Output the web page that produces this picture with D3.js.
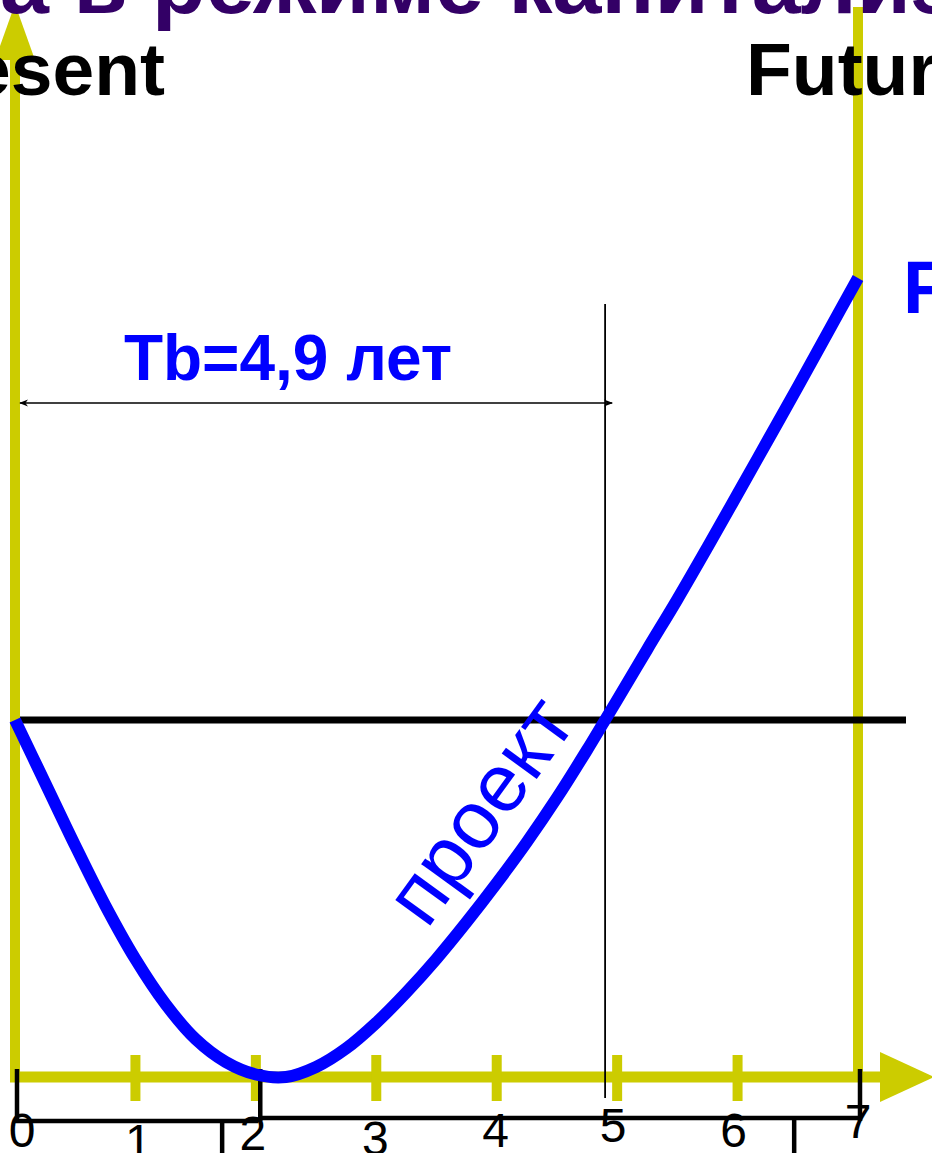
<!DOCTYPE html>
<html>
<head>
<meta charset="utf-8">
<script src="https://cdn.jsdelivr.net/npm/d3@7"></script>
<style>
  html, body { margin: 0; padding: 0; background: #fff; }
  svg { display: block; font-family: "Liberation Sans", Arial, sans-serif; }
</style>
</head>
<body>
<div id="chart"></div>
<script>
// data: cumulative project value by year (0 = break-even line)
const years   = [0, 0.25, 0.5, 0.75, 1, 1.25, 1.5, 1.75, 2, 2.25, 2.5, 2.75, 3, 3.25, 3.5,
                 3.75, 4, 4.25, 4.5, 4.75, 4.9, 5, 5.25, 5.5, 5.75, 6, 6.25, 6.5, 6.75, 7];
const project = [0, -17.6, -35.2, -52, -67, -79.6, -89.4, -95.8, -99.3, -100, -97.2, -92, -84.8, -76.3, -66.9,
                 -56.6, -45.7, -34.2, -21.8, -8.4, 0, 5.6, 19.8, 33.8, 48.4, 63.3, 78.3, 93.3, 108.6, 123.8];

const tickYears  = [0, 1, 2, 3, 4, 5, 6, 7];
const tickLabels = ["0", "1", "2", "3", "4", "5", "6", "7"];
const upMarks    = [0, 2.02, 7];     // black marks above the lower scale
const downMarks  = [1.72, 6.47];     // black marks below the lower scale
const paybackYear = 4.9;
const horizonYear = 7;

const titleText   = "а в режиме капитализации";
const presentText = "Present";
const futureText  = "Future";
const paybackText = "Tb=4,9 лет";
const curveText   = "проект";
const fvText      = "FV";

const W = 932, H = 1153;
const YELLOW = "#cccc00", BLUE = "#0000ff", PURPLE = "#330066";

// layout nudges for hand placed tick labels
const labelDx = [7, 3, -3, -1, -1, -4, -4, 0];
const labelBase = [1147, 1158, 1150, 1155, 1147, 1142, 1147, 1138];

const x = d3.scaleLinear().domain([0, 7]).range([15, 858]);
const y = d3.scaleLinear().domain([-100, 0]).range([1077, 720]);

const svg = d3.select("#chart").append("svg")
  .attr("width", W).attr("height", H);

svg.append("rect").attr("width", W).attr("height", H).attr("fill", "#fff");

// yellow frame: time axis, "present" and "future" verticals
const axisY = y(-100);
svg.append("line")
  .attr("x1", x(0) - 5).attr("x2", 882)
  .attr("y1", axisY).attr("y2", axisY)
  .attr("stroke", YELLOW).attr("stroke-width", 11);
svg.append("path")
  .attr("d", `M880,${axisY - 25} L934,${axisY} L880,${axisY + 25} Z`)
  .attr("fill", YELLOW);

svg.append("line")
  .attr("x1", x(0)).attr("x2", x(0))
  .attr("y1", axisY + 5).attr("y2", 50)
  .attr("stroke", YELLOW).attr("stroke-width", 10);
svg.append("path")
  .attr("d", `M${x(0)},4 L${x(0) + 20},60 L${x(0) - 20},60 Z`)
  .attr("fill", YELLOW);

svg.append("line")
  .attr("x1", x(horizonYear)).attr("x2", x(horizonYear))
  .attr("y1", 7).attr("y2", axisY)
  .attr("stroke", YELLOW).attr("stroke-width", 10);

svg.selectAll("line.ytick")
  .data(tickYears.filter(d => d > 0 && d < horizonYear))
  .enter().append("line")
  .attr("class", "ytick")
  .attr("x1", d => x(d)).attr("x2", d => x(d))
  .attr("y1", axisY - 22).attr("y2", axisY + 24)
  .attr("stroke", YELLOW).attr("stroke-width", 10);

// break-even line
svg.append("line")
  .attr("x1", x(0) + 5).attr("x2", 906)
  .attr("y1", y(0)).attr("y2", y(0))
  .attr("stroke", "#000").attr("stroke-width", 7);

// payback vertical + dimension arrow
svg.append("line")
  .attr("x1", x(paybackYear)).attr("x2", x(paybackYear))
  .attr("y1", 304).attr("y2", 1098)
  .attr("stroke", "#000").attr("stroke-width", 1.8);

const defs = svg.append("defs");
defs.append("marker")
  .attr("id", "arr").attr("viewBox", "0 0 10 10")
  .attr("refX", 9).attr("refY", 5)
  .attr("markerWidth", 9).attr("markerHeight", 9)
  .attr("markerUnits", "userSpaceOnUse")
  .attr("orient", "auto-start-reverse")
  .append("path").attr("d", "M0,1 L10,5 L0,9 L3,5 Z").attr("fill", "#000");

svg.append("line")
  .attr("x1", x(0) + 5).attr("x2", x(paybackYear) + 7)
  .attr("y1", 403).attr("y2", 403)
  .attr("stroke", "#000").attr("stroke-width", 1.6)
  .attr("marker-start", "url(#arr)").attr("marker-end", "url(#arr)");

// lower black scale
const scaleY = 1119;
svg.append("line")
  .attr("x1", x(0)).attr("x2", x(upMarks[1]))
  .attr("y1", scaleY + 2).attr("y2", scaleY + 2)
  .attr("stroke", "#000").attr("stroke-width", 4.5);
svg.append("line")
  .attr("x1", x(upMarks[1])).attr("x2", x(horizonYear))
  .attr("y1", scaleY - 1).attr("y2", scaleY - 1)
  .attr("stroke", "#000").attr("stroke-width", 4.5);

svg.selectAll("line.up")
  .data(upMarks).enter().append("line")
  .attr("class", "up")
  .attr("x1", d => x(d) + 2).attr("x2", d => x(d) + 2)
  .attr("y1", 1069).attr("y2", scaleY + 2)
  .attr("stroke", "#000").attr("stroke-width", 4.5);

svg.selectAll("line.down")
  .data(downMarks).enter().append("line")
  .attr("class", "down")
  .attr("x1", d => x(d)).attr("x2", d => x(d))
  .attr("y1", scaleY).attr("y2", H + 5)
  .attr("stroke", "#000").attr("stroke-width", 4.5);

svg.selectAll("text.tick")
  .data(tickLabels).enter().append("text")
  .attr("class", "tick")
  .attr("x", (d, i) => x(tickYears[i]) + labelDx[i])
  .attr("y", (d, i) => labelBase[i])
  .attr("text-anchor", "middle")
  .attr("font-size", 48)
  .attr("fill", "#000")
  .text(d => d);

// project curve
const line = d3.line()
  .x(d => x(d[0]))
  .y(d => y(d[1]))
  .curve(d3.curveCatmullRom.alpha(0.5));

svg.append("path")
  .datum(years.map((d, i) => [d, project[i]]))
  .attr("d", line)
  .attr("fill", "none")
  .attr("stroke", BLUE)
  .attr("stroke-width", 12)
  .attr("stroke-linecap", "butt");

// texts
svg.append("text")
  .attr("x", 0).attr("y", 13)
  .attr("font-size", 88).attr("font-weight", "bold")
  .attr("fill", PURPLE)
  .text(titleText);

svg.append("text")
  .attr("x", 165).attr("y", 95)
  .attr("text-anchor", "end")
  .attr("font-size", 75).attr("font-weight", "bold")
  .attr("fill", "#000")
  .text(presentText);

svg.append("text")
  .attr("x", 746).attr("y", 95)
  .attr("font-size", 75).attr("font-weight", "bold")
  .attr("fill", "#000")
  .text(futureText);

svg.append("text")
  .attr("x", 288).attr("y", 380)
  .attr("text-anchor", "middle")
  .attr("font-size", 64).attr("font-weight", "bold")
  .attr("fill", BLUE)
  .text(paybackText);

svg.append("text")
  .attr("x", 903).attr("y", 313)
  .attr("font-size", 74).attr("font-weight", "bold")
  .attr("fill", BLUE)
  .text(fvText);

svg.append("text")
  .attr("transform", "translate(427,930) rotate(-54)")
  .attr("font-size", 82)
  .attr("fill", BLUE)
  .text(curveText);
</script>
</body>
</html>
